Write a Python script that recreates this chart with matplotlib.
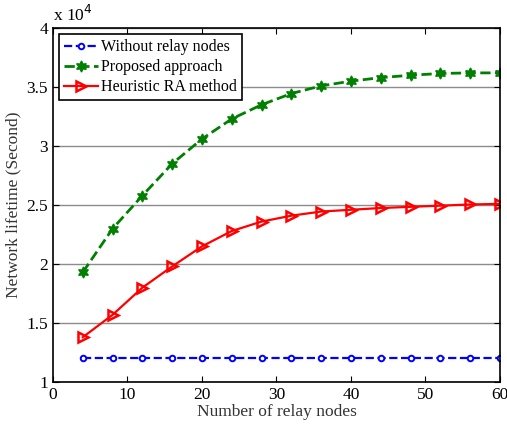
import matplotlib
matplotlib.use("Agg")
import matplotlib.pyplot as plt
import numpy as np

plt.rcParams['font.family'] = ['Liberation Serif', 'DejaVu Serif']

relay_nodes = [4, 8, 12, 16, 20, 24, 28, 32, 36, 40, 44, 48, 52, 56, 60]
without_relay = [12000] * 15
proposed = [19300, 23000, 25800, 28500, 30600, 32300, 33500, 34450, 35100,
            35500, 35800, 36000, 36150, 36200, 36200]
heuristic = [13800, 15700, 18000, 19800, 21500, 22800, 23600, 24100, 24450,
             24600, 24750, 24850, 24950, 25050, 25100]
scale = 1e4

fig = plt.figure(figsize=(5.07, 4.25), dpi=100)
ax = fig.add_axes([0.1045, 0.101, 0.8815, 0.833])

ax.plot(relay_nodes, np.array(without_relay) / scale, '--', color='blue', lw=1.6,
        marker='o', ms=4, mfc='white', mec='blue', mew=1.4, label='Without relay nodes')
ax.plot(relay_nodes, np.array(proposed) / scale, '--', color='green', lw=2,
        marker=(6, 1, 0), ms=8, mfc='green', mec='green', label='Proposed approach')
ax.plot(relay_nodes, np.array(heuristic) / scale, '-', color='red', lw=1.6,
        marker='>', ms=7, mfc='none', mec='red', mew=1.8, label='Heuristic RA method')

ax.set_xlim(0, 60)
ax.set_ylim(1, 4)
ax.set_xticks(range(0, 61, 10))
ax.set_yticks([1, 1.5, 2, 2.5, 3, 3.5, 4])
ax.set_yticklabels(['1', '1.5', '2', '2.5', '3', '3.5', '4'])
ax.yaxis.grid(True, color='#8c8c8c', lw=1)
ax.set_axisbelow(True)
ax.tick_params(direction='in', top=True, right=True, labelsize=12.5, length=4)
for s in ax.spines.values():
    s.set_linewidth(1.2)

ax.set_xlabel('Number of relay nodes', fontsize=12.5, labelpad=1, color='#333333')
ax.set_ylabel('Network lifetime (Second)', fontsize=12.5, labelpad=4, color='#333333')
ax.text(0, 1.01, r'x 10$^4$', transform=ax.transAxes, fontsize=12.5, va='bottom')

leg = ax.legend(loc='upper left', fontsize=11.5, fancybox=False, framealpha=1,
                edgecolor='black', borderaxespad=0.4, handlelength=2.1,
                borderpad=0.3, labelspacing=0.25, handletextpad=0.2)
leg.get_frame().set_linewidth(1.2)

fig.savefig('out.png', dpi=100)
